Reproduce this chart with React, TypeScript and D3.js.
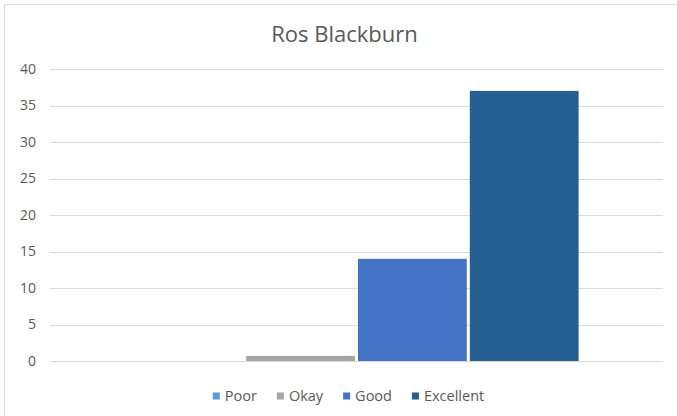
import React from "react";
import * as d3 from "d3";

const title = "Ros Blackburn";
const categories = [""];
const seriesNames = ["Poor", "Okay", "Good", "Excellent"];
const seriesValues = [0, 0.7, 14, 37];
const seriesColors = ["#5B9BD5", "#A5A5A5", "#4472C4", "#255E91"];
const yTicks = [0, 5, 10, 15, 20, 25, 30, 35, 40];

const W = 677;
const H = 416;
const plot = { left: 50, right: 663, top: 69, bottom: 361 };
const FONT = "'Open Sans', 'Noto Sans', sans-serif";
const TEXT = "#595959";

function measure(text: string, size: number) {
  const c = document.createElement("canvas").getContext("2d");
  if (!c) return text.length * size * 0.55;
  c.font = `${size}px 'Open Sans'`;
  return c.measureText(text).width;
}

export default function App() {
  const y = d3.scaleLinear().domain([0, 40]).range([plot.bottom, plot.top]);
  const x0 = d3
    .scaleBand<string>()
    .domain(categories)
    .range([plot.left, plot.right])
    .paddingInner(0)
    .paddingOuter(0.19);
  const x1 = d3
    .scaleBand<string>()
    .domain(seriesNames)
    .range([0, x0.bandwidth()])
    .paddingInner(0.027)
    .paddingOuter(0);

  const legendSize = 14.5;
  const marker = 7;
  const markerGap = 5;
  const itemGap = 20;
  const widths = seriesNames.map((s) => marker + markerGap + measure(s, legendSize));
  const total = widths.reduce((a, b) => a + b, 0) + itemGap * (seriesNames.length - 1);
  let lx = 348.5 - total / 2;
  const legendItems = seriesNames.map((s, i) => {
    const item = { name: s, x: lx, color: seriesColors[i] };
    lx += widths[i] + itemGap;
    return item;
  });
  const legendY = 396;

  return (
    <svg
      width={W}
      height={H}
      style={{ position: "absolute", left: 0, top: 0, background: "#fff" }}
      fontFamily={FONT}
    >
      <rect x={4.5} y={4.5} width={W + 10} height={H + 10} fill="#fff" stroke="#D9D9D9" strokeWidth={1} />
      <text x={344.5} y={42} textAnchor="middle" fontSize={22} fill={TEXT}>
        {title}
      </text>
      {yTicks.map((t) => (
        <g key={t}>
          <line
            x1={plot.left}
            x2={plot.right}
            y1={Math.round(y(t)) + 0.5}
            y2={Math.round(y(t)) + 0.5}
            stroke="#D9D9D9"
            strokeWidth={1}
          />
          <text x={36} y={y(t)} dy="0.35em" textAnchor="end" fontSize={14} fill={TEXT}>
            {t}
          </text>
        </g>
      ))}
      {categories.map((c) => (
        <g key={c} transform={`translate(${x0(c)},0)`}>
          {seriesNames.map((s, i) =>
            seriesValues[i] > 0 ? (
              <rect
                key={s}
                x={x1(s)}
                y={y(seriesValues[i])}
                width={x1.bandwidth()}
                height={y(0) - y(seriesValues[i])}
                fill={seriesColors[i]}
              />
            ) : null
          )}
        </g>
      ))}
      {legendItems.map((it) => (
        <g key={it.name}>
          <rect x={it.x} y={legendY - marker / 2} width={marker} height={marker} fill={it.color} />
          <text x={it.x + marker + markerGap} y={legendY} dy="0.35em" fontSize={legendSize} fill={TEXT}>
            {it.name}
          </text>
        </g>
      ))}
    </svg>
  );
}
